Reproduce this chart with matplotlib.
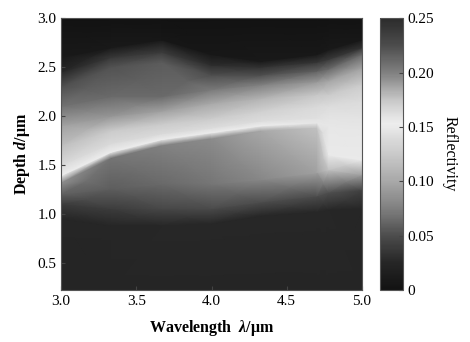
import numpy as np
import matplotlib
matplotlib.use("Agg")
import matplotlib.pyplot as plt
from matplotlib.colors import LinearSegmentedColormap

# wavelength columns
wavelength = [3.0, 3.33, 3.67, 4.0, 4.33, 4.7, 4.78, 5.0]

# for each column: depth of each feature (bottom -> top) and the reflectivity there
# features: bottom, dark edge, lower grey x3, bright line, band x3,
#           upper grey x2, dark edge, dark, top
d_300 = [0.2, 0.95, 1.10, 1.20, 1.32, 1.39, 1.50, 1.70, 1.90, 2.10, 2.30, 2.45, 2.60, 3.0]
r_300 = [0.024, 0.025, 0.040, 0.060, 0.085, 0.152, 0.138, 0.117, 0.096, 0.068, 0.051, 0.025, 0.009, 0.0]
d_333 = [0.2, 0.88, 1.05, 1.25, 1.57, 1.63, 1.72, 1.85, 2.00, 2.20, 2.50, 2.60, 2.70, 3.0]
r_333 = [0.024, 0.025, 0.040, 0.058, 0.070, 0.152, 0.138, 0.125, 0.088, 0.065, 0.053, 0.037, 0.009, 0.0]
d_367 = [0.2, 0.88, 1.05, 1.30, 1.70, 1.76, 1.82, 1.92, 2.05, 2.20, 2.55, 2.65, 2.78, 3.0]
r_367 = [0.024, 0.026, 0.046, 0.064, 0.077, 0.152, 0.138, 0.125, 0.095, 0.065, 0.057, 0.040, 0.006, 0.0]
d_400 = [0.2, 0.90, 1.05, 1.30, 1.77, 1.83, 1.88, 1.98, 2.13, 2.27, 2.42, 2.52, 2.63, 3.0]
r_400 = [0.024, 0.026, 0.048, 0.070, 0.083, 0.152, 0.140, 0.125, 0.100, 0.072, 0.050, 0.030, 0.006, 0.0]
d_433 = [0.2, 0.98, 1.12, 1.35, 1.85, 1.90, 1.95, 2.05, 2.18, 2.32, 2.42, 2.50, 2.56, 3.0]
r_433 = [0.024, 0.026, 0.050, 0.080, 0.100, 0.152, 0.140, 0.130, 0.108, 0.075, 0.050, 0.033, 0.009, 0.0]
d_470 = [0.2, 1.02, 1.18, 1.42, 1.88, 1.93, 1.98, 2.10, 2.22, 2.35, 2.46, 2.55, 2.63, 3.0]
r_470 = [0.024, 0.026, 0.050, 0.095, 0.120, 0.148, 0.143, 0.138, 0.123, 0.090, 0.060, 0.035, 0.008, 0.0]
d_478 = [0.2, 1.04, 1.22, 1.45, 1.60, 1.90, 1.98, 2.10, 2.22, 2.36, 2.48, 2.58, 2.68, 3.0]
r_478 = [0.024, 0.026, 0.052, 0.120, 0.150, 0.148, 0.146, 0.140, 0.125, 0.098, 0.065, 0.038, 0.009, 0.0]
d_500 = [0.2, 1.05, 1.24, 1.40, 1.55, 1.85, 1.98, 2.15, 2.32, 2.49, 2.63, 2.70, 2.78, 3.0]
r_500 = [0.024, 0.025, 0.043, 0.095, 0.150, 0.148, 0.145, 0.140, 0.127, 0.096, 0.063, 0.033, 0.006, 0.0]

cbar_ticks = [0, 0.05, 0.10, 0.15, 0.20, 0.25]
cbar_labels = ["0", "0.05", "0.10", "0.15", "0.20", "0.25"]

D = np.column_stack([d_300, d_333, d_367, d_400, d_433, d_470, d_478, d_500])
R = np.column_stack([r_300, r_333, r_367, r_400, r_433, r_470, r_478, r_500])
W = np.tile(wavelength, (D.shape[0], 1))

# grey version of a jet-like map
pts = [(0.0, 0.07), (0.1, 0.15), (0.2, 0.30), (0.3, 0.50), (0.4, 0.66), (0.5, 0.79),
       (0.56, 0.86), (0.61, 0.93), (0.64, 0.89), (0.7, 0.78), (0.8, 0.50), (0.9, 0.30),
       (1.0, 0.17)]
cmap = LinearSegmentedColormap.from_list("greyjet", [(p, (g, g, g)) for p, g in pts])

plt.rcParams["font.family"] = "Liberation Serif"
plt.rcParams["mathtext.fontset"] = "custom"
plt.rcParams["mathtext.it"] = "Liberation Serif:italic:bold"
plt.rcParams["mathtext.rm"] = "Liberation Serif:bold"

fig = plt.figure(figsize=(4.7, 3.42), dpi=100)
ax = fig.add_axes([0.130, 0.152, 0.640, 0.795])
cax = fig.add_axes([0.808, 0.152, 0.049, 0.795])

mesh = ax.pcolormesh(W, D, R, cmap=cmap, vmin=0, vmax=0.25, shading="gouraud")
ax.set_xlim(3.0, 5.0)
ax.set_ylim(0.22, 3.0)
ax.set_xticks([3.0, 3.5, 4.0, 4.5, 5.0])
ax.set_yticks([0.5, 1.0, 1.5, 2.0, 2.5, 3.0])
ax.tick_params(direction="in", labelsize=11, length=3, color="#444444")
for s in ax.spines.values():
    s.set_color("#555555")
ax.set_xlabel(r"Wavelength  $\lambda$/μm", fontsize=11.5, fontweight="bold", labelpad=7)
ax.set_ylabel(r"Depth $d$/μm", fontsize=11.5, fontweight="bold", labelpad=4)

cb = fig.colorbar(mesh, cax=cax)
cb.set_ticks(cbar_ticks)
cb.set_ticklabels(cbar_labels)
cb.ax.tick_params(direction="in", labelsize=11, length=3, color="#444444")
cb.outline.set_edgecolor("#555555")
cb.set_label("Reflectivity", fontsize=11.5, rotation=270, labelpad=17)

fig.savefig("out.png", dpi=100)
